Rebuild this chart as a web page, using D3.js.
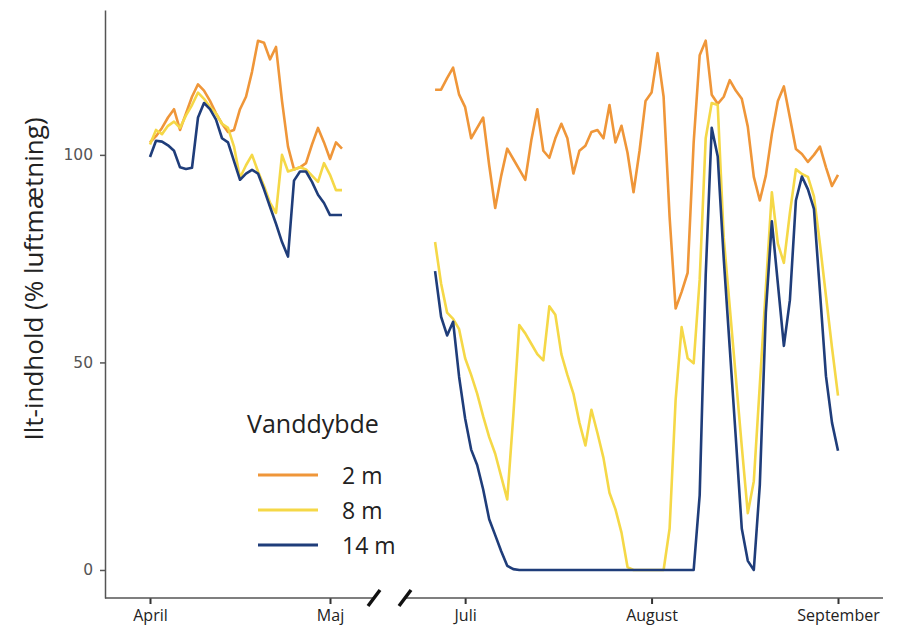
<!DOCTYPE html>
<html>
<head>
<meta charset="utf-8">
<script src="https://cdn.jsdelivr.net/npm/d3@7"></script>
<style>
  body { margin: 0; background: #fff; }
  svg { display: block; }
  text { font-family: "Open Sans", sans-serif; }
</style>
</head>
<body>
<div id="chart"></div>
<script>
// series, daily values (% luftmætning)
const depths = ["2 m", "8 m", "14 m"];
const colors = ["#EF9639", "#F5D847", "#1F3D7A"];

const springStart = "2019-04-01";
const summerStart = "2019-06-26";

const spring2m = [103, 104.5, 106.5, 109, 111, 106, 110, 114, 117, 115.5, 113, 110, 107.5, 105.5, 106, 111, 114, 120, 127.5, 127, 123, 126, 113, 102, 96.5, 97, 98, 102.5, 106.5, 103, 99, 103, 101.5];
const spring8m = [102.5, 106, 105, 107, 108, 106.5, 109.5, 112, 115, 113.5, 111.5, 110, 107.5, 106.5, 102, 94.5, 97.5, 100, 96, 92.5, 88.5, 86, 100, 96, 96.5, 97, 96.5, 95, 93.5, 98, 95.2, 91.5, 91.5];
const spring14m = [99.5, 103.4, 103.2, 102.3, 101, 97, 96.6, 96.9, 109, 112.5, 111, 108.5, 104, 103, 98.5, 94, 95.5, 96.4, 95.5, 91.7, 87.5, 83.4, 79, 75.5, 93.8, 96, 96, 93.5, 90.4, 88.4, 85.5, 85.5, 85.5];

const summer2m = [115.7, 115.7, 118.5, 121, 114.5, 111.5, 104, 106.5, 109, 97.5,
  87.2, 95, 101.5, 99, 96.5, 94, 103.5, 111, 101, 99.3,
  104, 107.5, 104, 95.5, 101, 102.2, 105.5, 106, 104, 112,
  103, 107, 100.5, 91, 101, 113, 115, 124.5, 114, 85,
  63, 67, 71.6, 103, 124, 127.5, 114.5, 112.3, 114, 118,
  115.5, 113.5, 106.8, 94.7, 89, 95, 105, 113, 116.5, 109,
  101.4, 100.2, 98.3, 100, 102, 97, 92.5, 95.2];
const summer8m = [79, 69, 62, 60.5, 58, 51, 47, 42.5, 37, 32,
  28, 22.5, 17, 37, 59, 57, 54.5, 52, 50.5, 63.5,
  61.5, 52, 47, 42.5, 35.5, 30, 38.6, 33, 27, 18.6,
  14.6, 9, 0.7, 0, 0, 0, 0, 0, 0, 10,
  41, 58.5, 51, 49.8, 70, 104, 112.5, 112, 80, 63.4,
  46.6, 29.8, 13.7, 21.4, 44.6, 67.8, 91, 78.6, 74, 86,
  96.5, 95.4, 94.7, 90, 78.5, 66, 53.6, 42];
const summer14m = [72, 61, 56.5, 59.8, 46.5, 36.5, 29, 25.3, 19.4, 12.2,
  8.4, 4.5, 1, 0.2, 0, 0, 0, 0, 0, 0,
  0, 0, 0, 0, 0, 0, 0, 0, 0, 0,
  0, 0, 0, 0, 0, 0, 0, 0, 0, 0,
  0, 0, 0, 0, 18, 71, 106.5, 99.6, 75, 53.5,
  32, 10, 2.2, 0, 20.5, 62, 84, 69, 54, 65,
  89, 94.8, 91.7, 87, 67, 46.7, 35.5, 28.7];

const monthLabels = ["April", "Maj", "Juli", "August", "September"];
const monthDates = ["2019-04-01", "2019-05-01", "2019-07-01", "2019-08-01", "2019-09-01"];
const yTicks = [0, 50, 100];

const parse = d3.timeParse("%Y-%m-%d");

const seriesData = [
  [[springStart, spring2m], [summerStart, summer2m]],
  [[springStart, spring8m], [summerStart, summer8m]],
  [[springStart, spring14m], [summerStart, summer14m]]
];

const W = 897, H = 627;
const axisX = 105, axisY = 598;

const svg = d3.select("#chart").append("svg")
  .attr("width", W)
  .attr("height", H);

// broken time axis: april-may part, then late june - september
const xScale = d3.scaleTime()
  .domain([parse("2019-04-01"), parse("2019-05-08"), parse("2019-06-21"), parse("2019-09-01")])
  .range([150, 372, 405, 838]);

const yScale = d3.scaleLinear()
  .domain([-6.75, 134.9])
  .range([axisY, 10]);

// y axis
const yAxis = svg.append("g")
  .attr("transform", `translate(${axisX},0)`)
  .call(d3.axisLeft(yScale).tickValues(yTicks).tickSize(5).tickSizeOuter(0).tickPadding(7));
yAxis.select(".domain").attr("stroke", "#555").attr("stroke-width", 1.5);
yAxis.selectAll(".tick line").attr("stroke", "#555").attr("stroke-width", 1.5);
yAxis.selectAll(".tick text")
  .attr("fill", "#555")
  .style("font-family", "'DejaVu Sans', sans-serif")
  .style("font-size", "15.5px");

svg.append("text")
  .attr("transform", "translate(43,279) rotate(-90)")
  .attr("text-anchor", "middle")
  .attr("fill", "#222")
  .style("font-size", "26px")
  .text("Ilt-indhold (% luftmætning)");

// x axis
const xAxis = svg.append("g")
  .attr("transform", `translate(0,${axisY})`)
  .call(d3.axisBottom(xScale)
    .tickValues(monthDates.map(parse))
    .tickFormat((d, i) => monthLabels[i])
    .tickSize(6)
    .tickPadding(6));
xAxis.select(".domain").remove();
xAxis.selectAll(".tick line").attr("stroke", "#333").attr("stroke-width", 2);
xAxis.selectAll(".tick text")
  .attr("fill", "#222")
  .style("font-size", "16px");

const brk1 = xScale(parse("2019-05-08")) + 2;
const brk2 = xScale(parse("2019-06-21"));
[[axisX, brk1], [brk2, 883]].forEach(s => {
  xAxis.append("line")
    .attr("x1", s[0]).attr("x2", s[1])
    .attr("y1", 0).attr("y2", 0)
    .attr("stroke", "#555")
    .attr("stroke-width", 1.5);
});
[brk1, brk2].forEach(bx => {
  xAxis.append("line")
    .attr("x1", bx - 6).attr("y1", 8)
    .attr("x2", bx + 6).attr("y2", -8)
    .attr("stroke", "#111")
    .attr("stroke-width", 3.5);
});

// lines
const line = d3.line()
  .x(d => xScale(d.date))
  .y(d => yScale(d.v));

seriesData.forEach((segs, si) => {
  segs.forEach(seg => {
    const start = parse(seg[0]);
    const pts = seg[1].map((v, i) => ({ date: d3.timeDay.offset(start, i), v: v }));
    svg.append("path")
      .datum(pts)
      .attr("fill", "none")
      .attr("stroke", colors[si])
      .attr("stroke-width", 2.6)
      .attr("stroke-linejoin", "round")
      .attr("d", line);
  });
});

// legend
const legend = svg.append("g");
legend.append("text")
  .attr("x", 247).attr("y", 433)
  .attr("fill", "#222")
  .style("font-size", "25px")
  .text("Vanddybde");

depths.forEach((d, i) => {
  legend.append("line")
    .attr("x1", 258).attr("x2", 318)
    .attr("y1", 475 + i * 35).attr("y2", 475 + i * 35)
    .attr("stroke", colors[i])
    .attr("stroke-width", 3);
  legend.append("text")
    .attr("x", 342).attr("y", 484 + i * 35)
    .attr("fill", "#222")
    .style("font-size", "23px")
    .text(d);
});
</script>
</body>
</html>
